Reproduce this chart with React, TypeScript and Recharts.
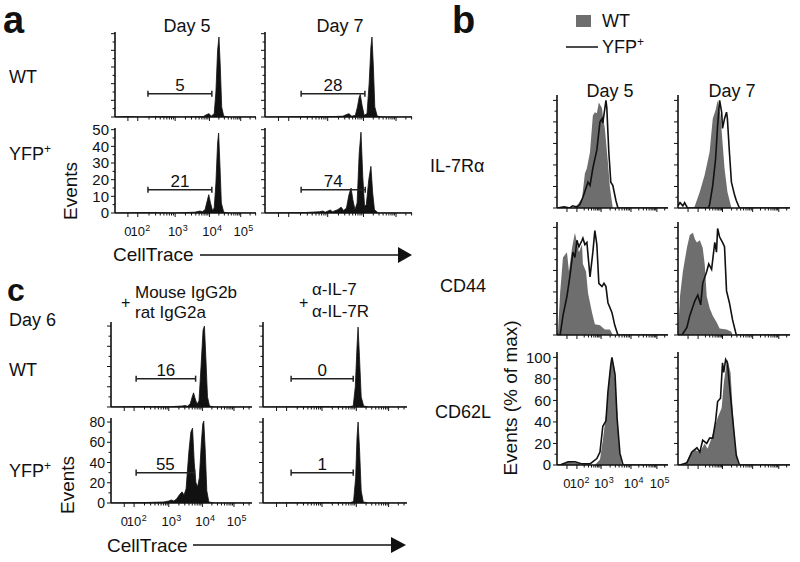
import React from "react";
import { ComposedChart, Area, Line, XAxis, YAxis, ReferenceLine } from "recharts";

type Pt = [number, number];

// x values are in log "decade" units of the biexponential CellTrace / marker axis

// ---- panel a: CellTrace dilution, Events (0-50)
const aWtDay5: Pt[] = [[1.25, 0], [1.6, 0.3], [2.0, 0], [2.6, 0.3], [3.2, 0], [3.85, 0.3], [3.95, 1.5], [4.02, 2], [4.08, 0.5], [4.17, 2], [4.22, 15], [4.27, 40], [4.31, 48], [4.35, 30], [4.39, 6], [4.45, 0.5], [4.6, 0], [5.4, 0]];
const aWtDay7: Pt[] = [[1.25, 0], [2.5, 0.3], [3.2, 0.3], [3.45, 0.5], [3.55, 1.5], [3.62, 2], [3.7, 0.5], [3.8, 1], [3.86, 6], [3.91, 12], [3.94, 13.5], [3.99, 7], [4.05, 1], [4.13, 2], [4.19, 20], [4.24, 42], [4.27, 48], [4.31, 30], [4.35, 6], [4.42, 0.5], [4.6, 0], [5.4, 0]];
const aYfpDay5: Pt[] = [[1.25, 0], [2.2, 0.3], [3.0, 0], [3.6, 0.5], [3.75, 1.2], [3.82, 0.8], [3.9, 2], [3.96, 7], [4.01, 11], [4.06, 6], [4.12, 1.5], [4.17, 3], [4.22, 18], [4.27, 42], [4.3, 48], [4.34, 28], [4.38, 6], [4.45, 0.5], [4.6, 0], [5.4, 0]];
const aYfpDay7: Pt[] = [[1.25, 0], [2.4, 0.3], [2.8, 0.8], [2.88, 1.2], [2.95, 0.5], [3.03, 1.2], [3.09, 1.8], [3.16, 0.8], [3.3, 2], [3.4, 3.5], [3.47, 1.5], [3.55, 3], [3.62, 11], [3.68, 15], [3.73, 8], [3.79, 2], [3.85, 6], [3.91, 36], [3.96, 48.5], [4.01, 22], [4.06, 4], [4.11, 5], [4.18, 20], [4.24, 28], [4.29, 12], [4.34, 2], [4.45, 0], [5.4, 0]];
const aGateLabel = ["5", "28", "21", "74"];
const aGateFrom = [2.22, 2.27, 2.22, 2.27];
const aGateTo = [4.1, 4.07, 4.1, 4.08];
const aGateLevel = [14, 14, 14, 14];
const aYTicks = [0, 10, 20, 30, 40, 50];

// ---- panel c: antibody blockade, day 6, Events (0-80)
const cIgWt: Pt[] = [[1.25, 0], [2.2, 0.5], [3.0, 0.3], [3.35, 1], [3.42, 1.5], [3.5, 0.8], [3.58, 3], [3.64, 10], [3.68, 14], [3.73, 8], [3.78, 3], [3.84, 6], [3.9, 40], [3.96, 76], [4.0, 80], [4.04, 50], [4.09, 10], [4.15, 1], [4.3, 0], [5.4, 0]];
const cAbWt: Pt[] = [[1.25, 0], [3.0, 0.5], [3.7, 0.3], [3.85, 1], [3.91, 20], [3.96, 60], [3.99, 79], [4.03, 50], [4.08, 10], [4.15, 1], [4.3, 0], [5.4, 0]];
const cIgYfp: Pt[] = [[1.25, 0], [2.3, 0.5], [2.8, 1], [2.95, 2], [3.03, 3], [3.1, 2], [3.18, 4], [3.26, 8], [3.34, 11], [3.4, 8], [3.46, 14], [3.54, 50], [3.6, 70], [3.65, 74], [3.7, 40], [3.75, 20], [3.8, 16], [3.85, 25], [3.91, 60], [3.95, 78], [3.98, 81], [4.02, 55], [4.07, 12], [4.13, 1], [4.3, 0], [5.4, 0]];
const cAbYfp: Pt[] = [[1.25, 0], [3.0, 0.5], [3.75, 0.3], [3.86, 1.5], [3.92, 25], [3.96, 65], [3.99, 80], [4.03, 55], [4.08, 12], [4.14, 1], [4.3, 0], [5.4, 0]];
const cGateLabel = ["16", "0", "55", "1"];
const cGateFrom = [1.99, 2.06, 1.99, 2.06];
const cGateTo = [3.74, 3.85, 3.71, 3.85];
const cGateLevel = [28, 28, 30, 30];
const cYTicks = [0, 20, 40, 60, 80];

// ---- panel b: surface markers, Events (% of max); WT filled, YFP+ line
const bIl7Day5Wt: Pt[] = [[1.35, 0], [1.9, 0], [1.98, 1], [2.1, 4], [2.23, 9], [2.33, 32], [2.4, 37], [2.51, 52], [2.61, 86], [2.68, 89], [2.75, 88], [2.82, 98], [2.93, 93], [2.96, 86], [3.03, 74], [3.14, 42], [3.21, 19], [3.31, 0], [5.25, 0]];
const bIl7Day5Yfp: Pt[] = [[1.35, 0], [1.6, 1], [1.8, 0], [1.9, 2], [2.05, 1], [2.15, 3], [2.26, 10], [2.44, 24], [2.51, 21], [2.61, 37], [2.75, 54], [2.86, 80], [2.93, 83], [2.96, 79], [3.07, 100], [3.1, 93], [3.17, 52], [3.24, 24], [3.31, 21], [3.42, 7], [3.49, 0], [5.25, 0]];
const bIl7Day7Wt: Pt[] = [[1.35, 0], [1.9, 0], [1.94, 2], [2.11, 15], [2.28, 31], [2.45, 52], [2.56, 83], [2.66, 91], [2.73, 100], [2.83, 86], [2.9, 61], [2.97, 37], [3.07, 15], [3.21, 0], [5.25, 0]];
const bIl7Day7Yfp: Pt[] = [[1.35, 2], [1.42, 5], [1.52, 2], [1.58, 5], [1.68, 0], [2.4, 0], [2.45, 3], [2.56, 21], [2.66, 46], [2.73, 77], [2.8, 100], [2.87, 89], [2.9, 74], [2.97, 83], [3.04, 89], [3.07, 83], [3.14, 52], [3.21, 24], [3.32, 12], [3.38, 7], [3.49, 0], [5.25, 0]];
const bCd44Day5Wt: Pt[] = [[1.35, 0], [1.39, 5], [1.46, 39], [1.56, 72], [1.7, 77], [1.77, 59], [1.88, 81], [1.98, 95], [2.05, 86], [2.12, 77], [2.23, 84], [2.26, 66], [2.37, 59], [2.44, 39], [2.58, 21], [2.68, 10], [2.86, 9], [3.03, 5], [3.21, 5], [3.31, 0], [5.25, 0]];
const bCd44Day5Yfp: Pt[] = [[1.35, 0], [1.46, 0], [1.56, 18], [1.7, 36], [1.8, 54], [1.91, 77], [1.98, 72], [2.05, 88], [2.12, 82], [2.23, 88], [2.26, 90], [2.33, 84], [2.4, 86], [2.51, 54], [2.61, 77], [2.68, 97], [2.75, 84], [2.82, 48], [2.93, 45], [3.0, 48], [3.07, 45], [3.14, 30], [3.28, 21], [3.38, 9], [3.49, 0], [5.25, 0]];
const bCd44Day7Wt: Pt[] = [[1.35, 0], [1.42, 36], [1.52, 59], [1.66, 81], [1.76, 93], [1.87, 95], [1.94, 89], [2.01, 86], [2.11, 88], [2.21, 81], [2.28, 66], [2.35, 36], [2.45, 25], [2.56, 18], [2.69, 12], [2.8, 6], [3.04, 5], [3.21, 3], [3.25, 0], [5.25, 0]];
const bCd44Day7Yfp: Pt[] = [[1.35, 0], [1.49, 0], [1.66, 7], [1.76, 18], [1.94, 32], [2.04, 37], [2.14, 28], [2.21, 48], [2.35, 59], [2.42, 66], [2.52, 61], [2.63, 86], [2.69, 77], [2.73, 99], [2.8, 91], [2.9, 86], [2.97, 82], [3.04, 41], [3.14, 30], [3.25, 14], [3.38, 0], [5.25, 0]];
const bCd62lDay5Wt: Pt[] = [[1.35, 0], [1.65, 2], [1.75, 3], [2.05, 2], [2.2, 0], [2.68, 0], [2.86, 5], [2.96, 23], [3.1, 53], [3.21, 89], [3.28, 99], [3.35, 93], [3.46, 53], [3.53, 16], [3.63, 0], [5.25, 0]];
const bCd62lDay5Yfp: Pt[] = [[1.35, 0], [1.46, 0], [1.74, 3], [1.98, 3], [2.23, 1], [2.51, 1], [2.75, 6], [2.86, 12], [2.96, 36], [3.07, 41], [3.14, 68], [3.24, 93], [3.28, 100], [3.39, 84], [3.46, 44], [3.56, 11], [3.67, 0], [5.25, 0]];
const bCd62lDay7Wt: Pt[] = [[1.35, 0], [1.59, 0], [1.76, 9], [1.94, 14], [2.11, 12], [2.28, 20], [2.38, 15], [2.52, 25], [2.63, 35], [2.73, 44], [2.87, 53], [2.94, 75], [3.04, 95], [3.07, 98], [3.18, 86], [3.25, 53], [3.35, 16], [3.45, 0], [5.25, 0]];
const bCd62lDay7Yfp: Pt[] = [[1.35, 0], [1.42, 0], [1.66, 2], [1.83, 12], [2.01, 16], [2.11, 12], [2.21, 23], [2.35, 20], [2.45, 25], [2.56, 25], [2.66, 41], [2.73, 59], [2.83, 62], [2.9, 95], [2.94, 86], [3.01, 98], [3.07, 95], [3.14, 75], [3.25, 44], [3.38, 9], [3.49, 0], [5.25, 0]];
const bYTicks = [0, 20, 40, 60, 80, 100];

// tick labels: 0, 10^2 .. 10^5
const decadeBase = ["0", "10", "10", "10", "10"];
const decadeExp = ["", "2", "3", "4", "5"];
const aDecadePos = [1.63, 1.92, 3.02, 4.03, 4.95];
const cDecadePos = [1.64, 1.93, 2.95, 3.94, 4.87];
const bDecadePos = [1.7, 2.05, 2.9, 3.95, 4.86];
const logSteps = [0.301, 0.477, 0.602, 0.699, 0.778, 0.845, 0.903, 0.954];

const INK = "#111";
const WT_GRAY = "#6e6e6e";
const FONT = "'Liberation Sans', Arial, Helvetica, sans-serif";

const PADL = 40;
const PADT = 12;
const PADR = 4;
const PADB = 28;

function minorTicks(pos: number[], end: number) {
  const out: number[] = [];
  for (let i = 1; i < pos.length; i++) {
    const a = pos[i];
    const b = i + 1 < pos.length ? pos[i + 1] : pos[i] + (pos[i] - pos[i - 1]);
    logSteps.forEach((s) => {
      const t = a + (b - a) * s;
      if (t < end) out.push(t);
    });
  }
  return out;
}

function mergeSeries(list: Pt[][]) {
  const rows = new Map<number, Record<string, number>>();
  list.forEach((pts, k) =>
    pts.forEach(([x, y]) => {
      const row = rows.get(x) ?? { x };
      row["s" + k] = y;
      rows.set(x, row);
    })
  );
  return [...rows.values()].sort((p, q) => p.x - q.x);
}

function makeXTick(majors: number[], showLabels: boolean) {
  return (p: any) => {
    const v = p.payload.value;
    const i = majors.findIndex((m) => Math.abs(m - v) < 1e-9);
    const major = i >= 0;
    return (
      <g>
        <line x1={p.x} x2={p.x} y1={p.y} y2={p.y + (major ? 4 : 2.5)} stroke={INK} strokeWidth={1} />
        {showLabels && major && (
          <g fontFamily={FONT} fill={INK}>
            <text x={p.x} y={p.y + 23} textAnchor="middle" fontSize={13}>
              {decadeBase[i]}
            </text>
            {decadeExp[i] && (
              <text x={p.x + 7.6} y={p.y + 18} fontSize={9}>
                {decadeExp[i]}
              </text>
            )}
          </g>
        )}
      </g>
    );
  };
}

function makeYTick(majors: number[], showLabels: boolean, fontSize: number) {
  return (p: any) => {
    const v = p.payload.value;
    const major = majors.includes(v);
    return (
      <g>
        <line x1={p.x} x2={p.x - (major ? 4 : 2.5)} y1={p.y} y2={p.y} stroke={INK} strokeWidth={1} />
        {showLabels && major && (
          <text x={p.x - 6} y={p.y + fontSize * 0.36} textAnchor="end" fontSize={fontSize} fontFamily={FONT} fill={INK}>
            {v}
          </text>
        )}
      </g>
    );
  };
}

interface Gate {
  from: number;
  to: number;
  level: number;
  label: string;
  cap: number;
}

interface HistProps {
  box: [number, number, number, number];
  xDomain: [number, number];
  yMax: number;
  decades: number[];
  yMajors: number[];
  fill: Pt[];
  fillColor: string;
  line?: Pt[];
  showX?: boolean;
  showY?: boolean;
  yFont?: number;
  gate?: Gate;
}

function Hist({ box, xDomain, yMax, decades, yMajors, fill, fillColor, line, showX = false, showY = false, yFont = 14, gate }: HistProps) {
  const [x, y, w, h] = box;
  const data = mergeSeries(line ? [fill, line] : [fill]);
  const xTicks = [...decades, ...minorTicks(decades, xDomain[1])].sort((p, q) => p - q);
  const step = yMajors[1] - yMajors[0];
  const yTicks = [...yMajors, ...yMajors.slice(0, -1).map((v) => v + step / 2)].sort((p, q) => p - q);
  return (
    <div style={{ position: "absolute", left: x - PADL, top: y - PADT }}>
      <ComposedChart width={w + PADL + PADR} height={h + PADT + PADB} data={data} margin={{ top: PADT, right: PADR, bottom: 0, left: 0 }}>
        <XAxis
          dataKey="x"
          type="number"
          domain={xDomain}
          allowDataOverflow
          ticks={xTicks}
          interval={0}
          height={PADB}
          tickSize={0}
          tickMargin={0}
          tickLine={false}
          axisLine={{ stroke: INK, strokeWidth: 1.6 }}
          tick={makeXTick(decades, showX)}
        />
        <YAxis
          type="number"
          domain={[0, yMax]}
          allowDataOverflow
          ticks={yTicks}
          interval={0}
          width={PADL}
          tickSize={0}
          tickMargin={0}
          tickLine={false}
          axisLine={{ stroke: INK, strokeWidth: 1.6 }}
          tick={makeYTick(yMajors, showY, yFont)}
        />
        <Area
          type="linear"
          dataKey="s0"
          stroke={fillColor === INK ? INK : "none"}
          strokeWidth={0.8}
          fill={fillColor}
          fillOpacity={1}
          connectNulls
          dot={false}
          activeDot={false}
          isAnimationActive={false}
        />
        {line && (
          <Line
            type="linear"
            dataKey="s1"
            stroke={INK}
            strokeWidth={1.6}
            connectNulls
            dot={false}
            activeDot={false}
            isAnimationActive={false}
          />
        )}
        {gate && (
          <ReferenceLine
            segment={[
              { x: gate.from, y: gate.level },
              { x: gate.to, y: gate.level },
            ]}
            stroke="#222"
            strokeWidth={1.5}
            label={{ value: gate.label, position: "top", offset: 3, fontSize: 17, fill: INK, fontFamily: FONT }}
          />
        )}
        {gate && (
          <ReferenceLine
            segment={[
              { x: gate.from, y: gate.level - gate.cap },
              { x: gate.from, y: gate.level + gate.cap },
            ]}
            stroke="#222"
            strokeWidth={1.5}
          />
        )}
        {gate && (
          <ReferenceLine
            segment={[
              { x: gate.to, y: gate.level - gate.cap },
              { x: gate.to, y: gate.level + gate.cap },
            ]}
            stroke="#222"
            strokeWidth={1.5}
          />
        )}
      </ComposedChart>
    </div>
  );
}

const A_X: [number, number] = [1.25, 5.4];
const C_X: [number, number] = [1.25, 5.4];
const B_X: [number, number] = [1.35, 5.25];

function aGate(i: number): Gate {
  return { from: aGateFrom[i], to: aGateTo[i], level: aGateLevel[i], label: aGateLabel[i], cap: 1.8 };
}
function cGate(i: number): Gate {
  return { from: cGateFrom[i], to: cGateTo[i], level: cGateLevel[i], label: cGateLabel[i], cap: 3 };
}

function YfpLabel({ x, y, size = 18 }: { x: number; y: number; size?: number }) {
  return (
    <text x={x} y={y} fontSize={size}>
      YFP
      <tspan dy={-7} fontSize={12}>
        +
      </tspan>
    </text>
  );
}

export default function App() {
  const aCommon = { xDomain: A_X, yMax: 51, decades: aDecadePos, yMajors: aYTicks, fillColor: INK, yFont: 15 };
  const cCommon = { xDomain: C_X, yMax: 84, decades: cDecadePos, yMajors: cYTicks, fillColor: INK, yFont: 14 };
  const bCommon = { xDomain: B_X, yMax: 105, decades: bDecadePos, yMajors: bYTicks, fillColor: WT_GRAY, yFont: 15 };

  return (
    <div style={{ position: "absolute", left: 0, top: 0, width: 800, height: 562, background: "#fff", overflow: "hidden", fontFamily: FONT }}>
      {/* panel a */}
      <Hist box={[115, 32, 141, 85]} fill={aWtDay5} gate={aGate(0)} {...aCommon} />
      <Hist box={[265, 32, 147, 85]} fill={aWtDay7} gate={aGate(1)} {...aCommon} />
      <Hist box={[115, 128, 141, 85]} fill={aYfpDay5} gate={aGate(2)} showX showY {...aCommon} />
      <Hist box={[265, 128, 147, 85]} fill={aYfpDay7} gate={aGate(3)} {...aCommon} />

      {/* panel c */}
      <Hist box={[111, 322, 141, 85]} fill={cIgWt} gate={cGate(0)} {...cCommon} />
      <Hist box={[263, 322, 144, 85]} fill={cAbWt} gate={cGate(1)} {...cCommon} />
      <Hist box={[111, 418, 141, 85]} fill={cIgYfp} gate={cGate(2)} showX showY {...cCommon} />
      <Hist box={[263, 418, 144, 85]} fill={cAbYfp} gate={cGate(3)} {...cCommon} />

      {/* panel b */}
      <Hist box={[557, 95, 111, 113]} fill={bIl7Day5Wt} line={bIl7Day5Yfp} {...bCommon} />
      <Hist box={[678, 95, 112, 113]} fill={bIl7Day7Wt} line={bIl7Day7Yfp} {...bCommon} />
      <Hist box={[557, 222, 111, 113]} fill={bCd44Day5Wt} line={bCd44Day5Yfp} {...bCommon} />
      <Hist box={[678, 222, 112, 113]} fill={bCd44Day7Wt} line={bCd44Day7Yfp} {...bCommon} />
      <Hist box={[557, 352, 111, 113]} fill={bCd62lDay5Wt} line={bCd62lDay5Yfp} showX showY {...bCommon} />
      <Hist box={[678, 352, 112, 113]} fill={bCd62lDay7Wt} line={bCd62lDay7Yfp} {...bCommon} />

      <svg width={800} height={562} style={{ position: "absolute", left: 0, top: 0, pointerEvents: "none" }} fontFamily={FONT} fill={INK}>
        {/* panel letters */}
        <text x={3} y={33} fontSize={38} fontWeight="bold">a</text>
        <text x={452} y={33} fontSize={38} fontWeight="bold">b</text>
        <text x={7} y={301} fontSize={32} fontWeight="bold">c</text>

        {/* panel a labels */}
        <text x={187} y={32} fontSize={18} textAnchor="middle">Day 5</text>
        <text x={340} y={32} fontSize={18} textAnchor="middle">Day 7</text>
        <text x={9} y={83} fontSize={18}>WT</text>
        <YfpLabel x={9} y={160} />
        <text transform="translate(70,191) rotate(-90)" textAnchor="middle" dominantBaseline="central" fontSize={19}>Events</text>
        <text x={113} y={261} fontSize={19}>CellTrace</text>
        <line x1={200} y1={255} x2={400} y2={255} stroke={INK} strokeWidth={1.5} />
        <polygon points="398,247 412,255 398,263" fill={INK} />

        {/* panel c labels */}
        <text x={121} y={308} fontSize={16}>+</text>
        <text x={135} y={298} fontSize={17}>Mouse IgG2b</text>
        <text x={135} y={318} fontSize={17}>rat IgG2a</text>
        <text x={299} y={308} fontSize={16}>+</text>
        <text x={312} y={295} fontSize={17}>α-IL-7</text>
        <text x={312} y={317} fontSize={17}>α-IL-7R</text>
        <text x={9} y={326} fontSize={18}>Day 6</text>
        <text x={9} y={376} fontSize={18}>WT</text>
        <YfpLabel x={9} y={477} />
        <text transform="translate(67,485) rotate(-90)" textAnchor="middle" dominantBaseline="central" fontSize={19}>Events</text>
        <text x={107} y={552} fontSize={19}>CellTrace</text>
        <line x1={193} y1={545} x2={393} y2={545} stroke={INK} strokeWidth={1.5} />
        <polygon points="391,537 406,545 391,553" fill={INK} />

        {/* panel b labels */}
        <rect x={576} y={15} width={15} height={12} fill={WT_GRAY} />
        <text x={602} y={27} fontSize={18}>WT</text>
        <line x1={566} y1={47} x2={598} y2={47} stroke={INK} strokeWidth={1.5} />
        <YfpLabel x={602} y={53} />
        <text x={610} y={97} fontSize={18} textAnchor="middle">Day 5</text>
        <text x={732} y={97} fontSize={18} textAnchor="middle">Day 7</text>
        <text x={430} y={172} fontSize={18}>IL-7Rα</text>
        <text x={440} y={292} fontSize={18}>CD44</text>
        <text x={435} y={418} fontSize={18}>CD62L</text>
        <text transform="translate(510,398) rotate(-90)" textAnchor="middle" dominantBaseline="central" fontSize={19}>Events (% of max)</text>
      </svg>
    </div>
  );
}
